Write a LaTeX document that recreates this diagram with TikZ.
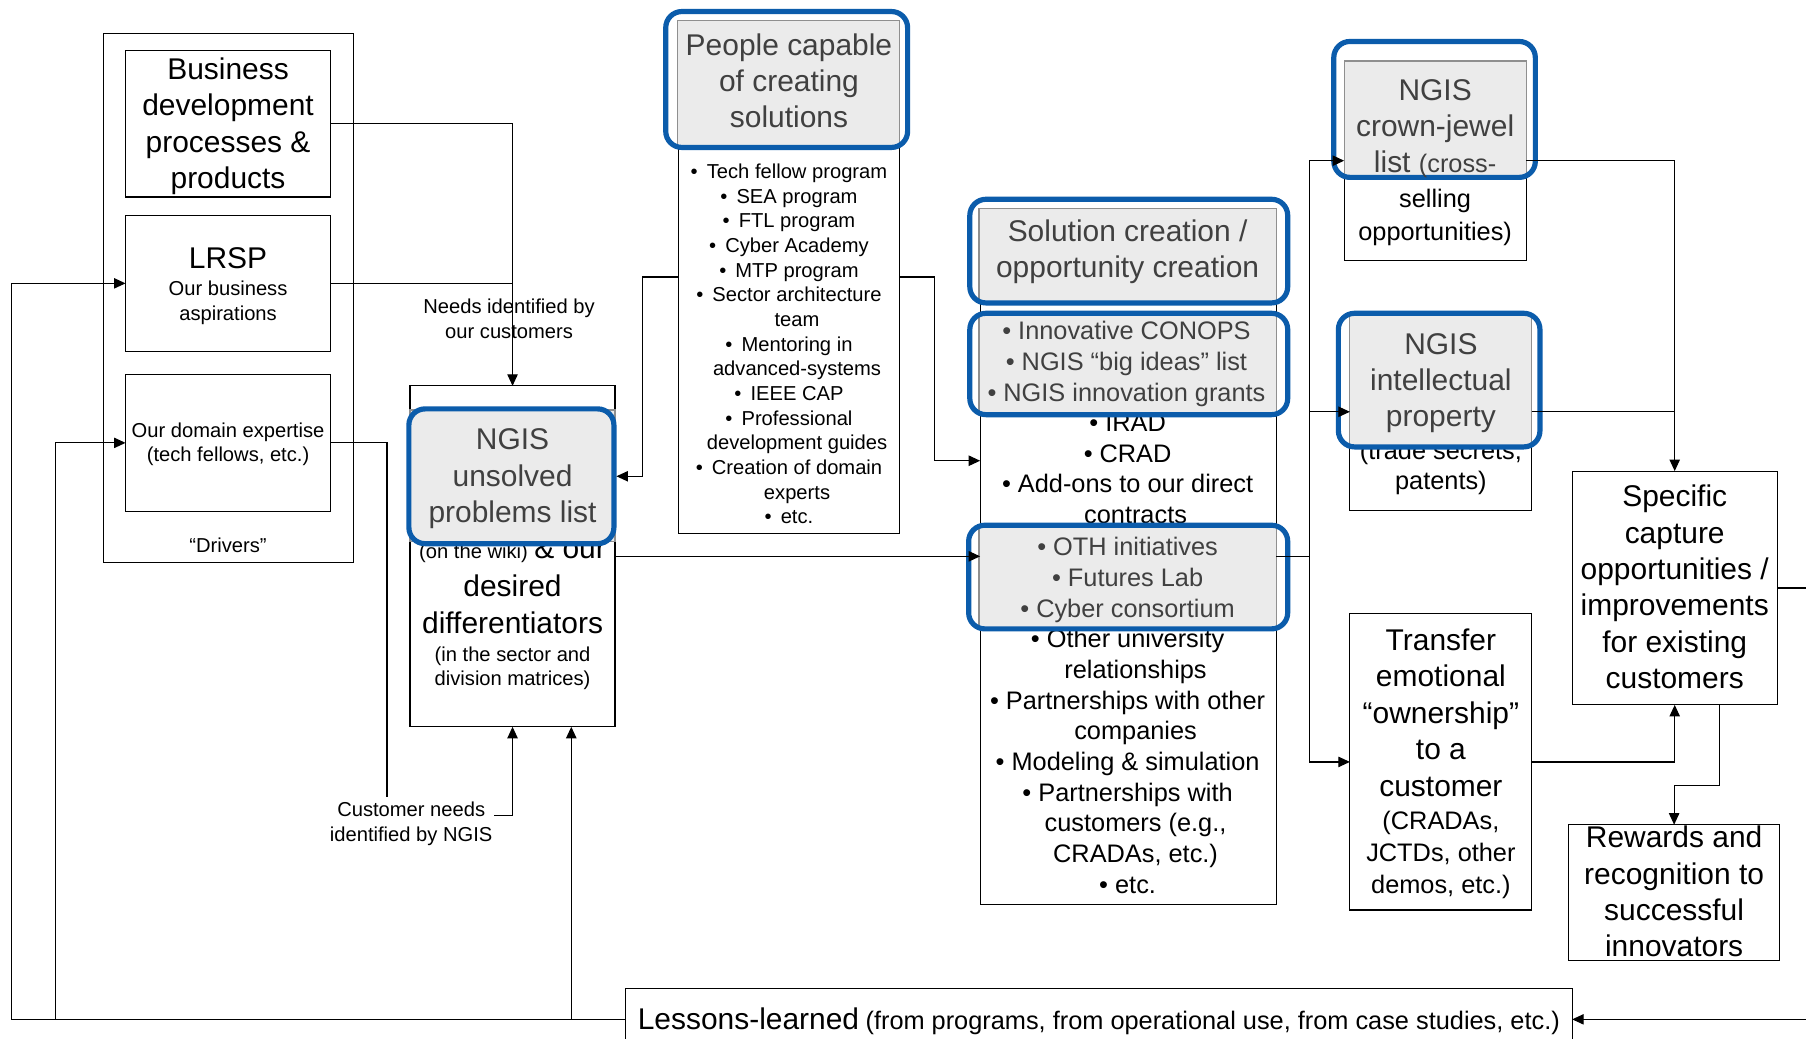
\documentclass[tikz,border=0pt]{standalone}
\usepackage{fontspec}
\setmainfont{Liberation Sans}
\usetikzlibrary{arrows.meta,fit}
\definecolor{hlblue}{HTML}{0B5CAB}
\definecolor{hlfill}{HTML}{EBEBEB}
\definecolor{hltext}{HTML}{404040}
\definecolor{hlline}{HTML}{8F8F8F}
\newcommand{\FBig}{\fontsize{13}{15.8}\selectfont}
\newcommand{\FMed}{\fontsize{11}{13.3}\selectfont}
\newcommand{\FLst}{\fontsize{11}{13.5}\selectfont}
\newcommand{\FSml}{\fontsize{8.75}{10.7}\selectfont}
\newcommand{\PBul}{•\hspace{0.45em}}
\newcommand{\PInd}{\hphantom{•\hspace{0.45em}}}
\newcommand{\SBul}{•\ }
\newcommand{\SInd}{\hphantom{•\ }}
\tikzset{
  box/.style={draw=black, line width=0.5pt, inner sep=0pt, outer sep=0pt},
  hlout/.style={draw=hlblue, line width=2.25pt, rounded corners=7pt, inner sep=0pt, outer sep=1.1pt},
  hlin/.style={draw=hlline, line width=0.5pt, fill=hlfill, inner sep=0pt, outer sep=0pt},
  lbl/.style={inner sep=0pt, align=center, text=black, text depth=0pt},
  hltxt/.style={inner sep=0pt, align=center, text=hltext, text depth=0pt},
  conn/.style={draw=black, line width=0.5pt},
  arr/.style={conn, -{Triangle[length=5pt,width=4.5pt]}},
}
\begin{document}
\begin{tikzpicture}[x=0.5pt,y=-0.5pt]
\useasboundingbox (0,0) rectangle (1568,902);
\fill[white] (0,0) rectangle (1568,902);
\clip (0,0) rectangle (1568,902);

% ---- Drivers group
\node[box, fit={(90,29) (307,488)}] (drivers) {};
\node[box, fit={(109,44) (287,171)}] (bd) {};
\node[box, fit={(109,187) (287,305)}] (lrsp) {};
\node[box, fit={(109,325) (287,444)}] (dom) {};
\node[lbl, font=\FBig] (bdt) at (198,107) {Business\\development\\processes \&\\products};
\node[lbl, font=\FBig] (lrspt) at (198,224) {LRSP};
\node[lbl, font=\FSml] (lrsps) at (198,261) {Our business\\aspirations};
\node[lbl, font=\FSml] (domt) at (198,384) {Our domain expertise\\(tech fellows, etc.)};
\node[lbl, font=\FSml] (drvt) at (198,473) {“Drivers”};

% ---- free labels
\node[lbl, font=\FSml] (needs) at (442,276.5) {Needs identified by\\our customers};
\node[lbl, font=\FSml] (cn) at (357,713.5) {Customer needs\\identified by NGIS};

% ---- NGIS unsolved box
\node[box, fit={(356,335) (534,631)}] (ngis) {};
\node[lbl] (ngwiki) at (445,476) {{\FSml (on the wiki)} {\FBig \& our}};
\node[lbl, font=\FBig] (ngdes) at (445,524.5) {desired\\differentiators};
\node[lbl, font=\FSml] (ngsec) at (445,578.5) {(in the sector and\\division matrices)};

% ---- People box
\node[box, fit={(589,18) (781,463)}] (people) {};
\node[lbl, font=\FSml] (plist) at (685,298.5) {\PBul Tech fellow program\\ \PBul SEA program\\ \PBul FTL program\\ \PBul Cyber Academy\\ \PBul MTP program\\ \PBul Sector architecture\\ \PInd team\\ \PBul Mentoring in\\ \PInd advanced-systems\\ \PBul IEEE CAP\\ \PBul Professional\\ \PInd development guides\\ \PBul Creation of domain\\ \PInd experts\\ \PBul etc.};

% ---- Solution box
\node[box, fit={(851,181) (1108,785)}] (sol) {};
\node[lbl, font=\FMed] (sola) at (979,407) {\SBul IRAD\\ \SBul CRAD\\ \SBul Add-ons to our direct\\ \SInd contracts};
\node[lbl, font=\FMed] (solb) at (979,661) {\SBul Other university\\ \SInd relationships\\ \SBul Partnerships with other\\ \SInd companies\\ \SBul Modeling \& simulation\\ \SBul Partnerships with\\ \SInd customers (e.g.,\\ \SInd CRADAs, etc.)\\ \SBul etc.};

% ---- Crown jewel / IP
\node[box, fit={(1167,53) (1325,226)}] (cj) {};
\node[lbl, font=\fontsize{11}{14.5}\selectfont] (cjt) at (1246,186.5) {selling\\opportunities)};
\node[box, fit={(1172,272) (1330,443)}] (ip) {};
\node[lbl, font=\fontsize{11}{13}\selectfont] (ipt) at (1251,404) {(trade secrets,\\patents)};

% ---- Transfer
\node[box, fit={(1172,533) (1330,790)}] (tr) {};
\node[lbl, font=\FBig] (trt) at (1251,618.5) {Transfer\\emotional\\“ownership”\\to a\\customer};
\node[lbl, font=\fontsize{11}{14}\selectfont] (trs) at (1251,740) {(CRADAs,\\JCTDs, other\\demos, etc.)};

% ---- Specific / Rewards
\node[box, fit={(1365,409) (1543,612)}] (sp) {};
\node[lbl, font=\FBig] (spt) at (1454,509.5) {Specific\\capture\\opportunities /\\improvements\\for existing\\customers};
\node[box, fit={(1362,716) (1545,834)}] (rw) {};
\node[lbl, font=\FBig] (rwt) at (1453.5,774) {Rewards and\\recognition to\\successful\\innovators};

% ---- Lessons
\node[box, fit={(543,858) (1365,912)}] (les) {};
\node[lbl] (lest) at (954,884) {{\FBig Lessons-learned} {\FMed (from programs, from operational use, from case studies, etc.)}};

% ---- Highlights
\node[hlin, fit={(588,18) (781,127)}] (peoplehin) {};
\node[hlout, fit={(578,10) (788,128)}] (peopleh) {};
\node[hltxt, font=\FBig] (peoplet) at (685,70) {People capable\\of creating\\solutions};

\node[hlin, fit={(356,356) (534,470)}] (ngishin) {};
\node[hlout, fit={(355,355) (533,472)}] (ngish) {};
\node[hltxt, font=\FBig] (ngist) at (445,413) {NGIS\\unsolved\\problems list};

\node[hlin, fit={(850,181) (1108,262)}] (solhin) {};
\node[hlout, fit={(842,173) (1118,263)}] (solh) {};
\node[hltxt, font=\FBig] (solht) at (979,216) {Solution creation /\\opportunity creation};

\node[hlin, fit={(850,272) (1108,359)}] (conhin) {};
\node[hlout, fit={(842,272) (1118,360)}] (conh) {};
\node[hltxt, font=\FLst] (conht) at (978,314) {\SBul Innovative CONOPS\\ \SBul NGIS “big ideas” list\\ \SBul NGIS innovation grants};

\node[hlin, fit={(850,456) (1108,545)}] (othhin) {};
\node[hlout, fit={(841,456) (1118,546)}] (othh) {};
\node[hltxt, font=\FLst] (othht) at (979,501) {\SBul OTH initiatives\\ \SBul Futures Lab\\ \SBul Cyber consortium};

\node[hlin, fit={(1167,53) (1325,154)}] (cjhin) {};
\node[hlout, fit={(1158,36) (1333,154)}] (cjh) {};
\node[hltxt, font=\FBig] (cjht) at (1246,109.5) {NGIS\\crown-jewel\\list {\FMed (cross-}};

\node[hlin, fit={(1172,273) (1330,388)}] (iphin) {};
\node[hlout, fit={(1162,272) (1337,388)}] (iph) {};
\node[hltxt, font=\FBig] (ipht) at (1251,330) {NGIS\\intellectual\\property};

% ---- Connectors
\draw[arr] (bd.east) -| (ngis.north);
\draw[conn] (lrsp.east) -- (lrsp.east -| ngis.north);
\coordinate (cnTop) at (336,692);
\draw[conn] (dom.east) -| (cnTop);
\coordinate (cnRight) at (429,708);
\draw[arr] (cnRight) -| (ngis.south);

\coordinate (lesL) at (10,885);
\coordinate (lesM) at (48,885);
\coordinate (lesN) at (496,885);
\draw[arr] (les.west) -- (lesL) |- (lrsp.west);
\draw[arr] (lesM) |- (dom.west);
\draw[arr] (lesN) -- (lesN |- ngis.south);

\coordinate (plJ) at (558,240.5);
\draw[arr] (people.west) -- (plJ) |- (ngish.east);
\coordinate (prJ) at (811,240.5);
\coordinate (prK) at (811,400);
\draw[arr] (people.east) -- (prJ) -- (prK) -- (prK -| sol.west);

\draw[arr] (ngis.east) -- (ngis.east -| sol.west);
\coordinate (sJ) at (1137,483);
\draw[conn] (sol.east) -- (sJ);
\draw[arr] (sJ) |- (cj.west);
\draw[arr] (sJ) |- (ip.west);
\draw[arr] (sJ) |- (tr.west);

\draw[arr] (cj.east) -| (sp.north);
\draw[conn] (ip.east) -- (ip.east -| sp.north);
\draw[arr] (tr.east) -| (sp.south);
\coordinate (spA) at (1493,682);
\draw[arr] (sp.south -| spA) -- (spA) -| (rw.north);
\coordinate (spR) at (1568,510.5);
\draw[conn] (sp.east) -- (spR);
\coordinate (lesR) at (1568,885);
\draw[arr] (lesR) -- (les.east);
\end{tikzpicture}
\end{document}
